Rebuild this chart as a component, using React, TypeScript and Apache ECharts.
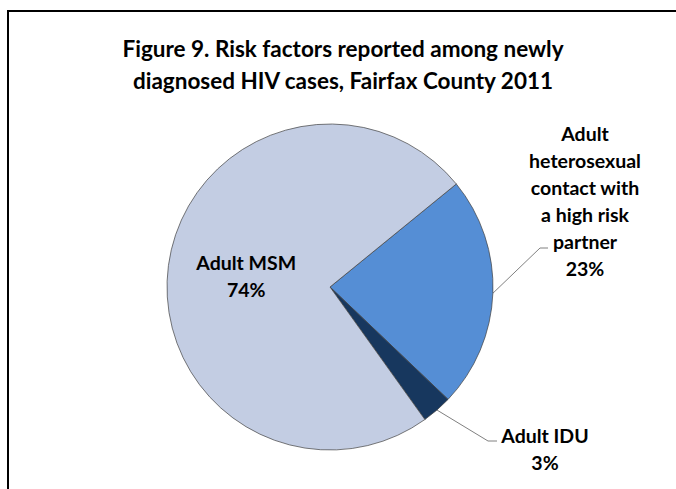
import React, { useEffect, useRef } from "react";
import * as echarts from "echarts";

const categories = ["Adult heterosexual contact with a high risk partner", "Adult IDU", "Adult MSM"];
const labelTexts = ["Adult\nheterosexual\ncontact with\na high risk\npartner", "Adult IDU", "Adult MSM"];
const values = [23, 3, 74];
const colors = ["#558ED5", "#17375E", "#C3CDE3"];
const titleText = "Figure 9. Risk factors reported among newly\ndiagnosed HIV cases, Fairfax County 2011";

export default function App() {
  const ref = useRef<HTMLDivElement>(null);
  useEffect(() => {
    document.body.style.margin = "0";
    const chart = echarts.init(ref.current!, null, { renderer: "svg" });
    const labelFont = { fontFamily: "Lato", fontWeight: "bold" as const, fontSize: 19.5, color: "#000", lineHeight: 27 };
    chart.setOption({
      animation: false,
      backgroundColor: "#fff",
      title: {
        text: titleText,
        left: 338,
        textAlign: "center",
        top: 27,
        textStyle: { fontFamily: "Lato", fontWeight: "bold", fontSize: 22.5, lineHeight: 32, color: "#000" },
      },
      graphic: [
        {
          type: "rect",
          shape: { x: 8, y: 11, width: 720, height: 520 },
          style: { fill: "none", stroke: "#000", lineWidth: 2 },
          z: 100,
        },
      ],
      series: [
        {
          type: "pie",
          center: [330, 287],
          radius: 163,
          startAngle: 39.2,
          clockwise: true,
          avoidLabelOverlap: false,
          itemStyle: { borderColor: "#404040", borderWidth: 0.7 },
          labelLine: { show: true, length: 10, length2: 10, lineStyle: { color: "#808080", width: 1 } },
          label: {
            ...labelFont,
            formatter: (p: any) => `${labelTexts[p.dataIndex]}\n${p.value}%`,
          },
          labelLayout: (params: any) => {
            const p0 = params.labelLinePoints ? params.labelLinePoints[0] : null;
            if (params.dataIndex === 0) {
              return {
                x: 585,
                y: 200.5,
                align: "center",
                verticalAlign: "middle",
                labelLinePoints: p0 ? [p0, [540, 248], [548, 248]] : undefined,
              };
            }
            if (params.dataIndex === 1) {
              return {
                x: 545,
                y: 449,
                align: "center",
                verticalAlign: "middle",
                labelLinePoints: p0 ? [p0, [488, 441], [497, 441]] : undefined,
              };
            }
            return {};
          },
          data: categories.map((name, i) => ({
            name,
            value: values[i],
            itemStyle: { color: colors[i] },
            label: i === 2 ? { position: "inside", align: "center" } : { position: "outside" },
            labelLine: { show: i !== 2 },
          })),
        },
      ],
    });
    return () => chart.dispose();
  }, []);
  return <div ref={ref} style={{ width: 676, height: 489 }} />;
}
